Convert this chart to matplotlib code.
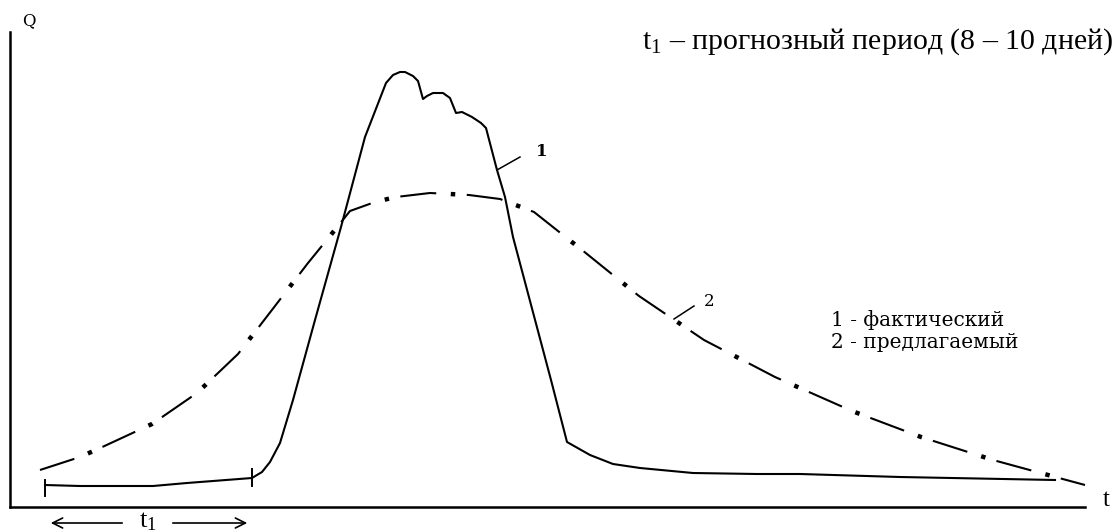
import matplotlib
matplotlib.use("Agg")
from matplotlib import pyplot as plt

plt.rcParams['font.family'] = ['Liberation Serif', 'DejaVu Serif']
plt.rcParams['mathtext.fontset'] = 'custom'
plt.rcParams['mathtext.rm'] = 'Liberation Serif'
plt.rcParams['mathtext.it'] = 'Liberation Serif'
plt.rcParams['lines.scale_dashes'] = False

# curve 1 - actual hydrograph
t_fact = [35, 70, 143, 177, 242, 252, 260, 270, 283, 305, 331, 355, 376, 383,
          390, 395, 403, 408, 413, 417, 423, 433, 440, 446, 452, 462, 471, 476,
          487, 495, 503, 541, 557, 580, 603, 630, 683, 747, 790, 890, 1045]
q_fact = [22, 21, 21, 24, 29, 35, 45, 64, 107, 187, 280, 370, 424, 432,
          435, 435, 431, 426, 408, 411, 414, 414, 409, 394, 395, 390, 384, 379,
          337, 310, 270, 127, 65, 52, 43, 39, 34, 33, 33, 30, 27]

# curve 2 - proposed hydrograph
t_pred = [30, 70, 88, 142, 187, 228, 265, 298, 320, 340, 365, 386, 420, 459,
          490, 524, 577, 629, 694, 765, 842, 911, 983, 1049, 1075]
q_pred = [37, 50, 58, 83, 114, 153, 201, 244, 271, 296, 305, 310, 314, 312,
          308, 295, 253, 211, 167, 130, 96, 70, 47, 29, 22]

# forecast period t1 marked on curve 1
t1_start, t1_end = 35, 242

wide = ['DejaVu Serif']

fig = plt.figure(figsize=(11.18, 5.32), dpi=100)
ax = fig.add_axes([10 / 1118, 25 / 532, 1075 / 1118, 475 / 532])
ax.set_xlim(0, 1075)
ax.set_ylim(0, 475)
for s in ['top', 'right']:
    ax.spines[s].set_visible(False)
for s in ['left', 'bottom']:
    ax.spines[s].set_linewidth(1.8)
ax.set_xticks([])
ax.set_yticks([])

ax.plot(t_fact, q_fact, color='black', lw=1.5, solid_joinstyle='round', clip_on=False)

# dash-dot curve: long dashes and heavier square dots on the same path
ax.plot(t_pred, q_pred, color='black', lw=1.5, linestyle=(0, (26, 22)), clip_on=False)
ax.plot(t_pred, q_pred, color='black', lw=3.2, linestyle=(11.5, (3.2, 44.8)), clip_on=False)

# t1 end ticks
ax.plot([t1_start, t1_start], [11, 27], color='black', lw=1.4, clip_on=False)
ax.plot([t1_end, t1_end], [21, 38], color='black', lw=1.4, clip_on=False)

# leaders for curve numbers
ax.plot([487, 510], [337, 350], color='black', lw=1.1)
ax.text(532, 355, "1", fontsize=12, family=wide, fontweight='semibold',
        ha='center', va='center')
ax.plot([664, 684], [188, 201], color='black', lw=1.1)
ax.text(699, 205, "2", fontsize=12, family=wide, ha='center', va='center')

ax.text(821, 187, "1 - фактический", fontsize=14.5, family=wide, ha='left', va='center')
ax.text(821, 165, "2 - предлагаемый", fontsize=14.5, family=wide, ha='left', va='center')

ax.text(1103, 465, r"t$_1$ – прогнозный период (8 – 10 дней)", fontsize=21.5,
        ha='right', va='center', clip_on=False)

ax.text(19, 486, "Q", fontsize=12, family=wide, ha='center', va='center', clip_on=False)
ax.text(1096, 7, "t", fontsize=18, ha='center', va='center', clip_on=False)

# t1 arrows below the axis
ax.annotate("", xy=(t1_start + 3, -16), xytext=(115, -16), annotation_clip=False,
            arrowprops=dict(arrowstyle='->', lw=1.2, color='black', mutation_scale=18))
ax.annotate("", xy=(t1_end - 2, -16), xytext=(160, -16), annotation_clip=False,
            arrowprops=dict(arrowstyle='->', lw=1.2, color='black', mutation_scale=18))
ax.text(138, -15, r"t$_1$", fontsize=19, ha='center', va='center', clip_on=False)

fig.savefig("out.png", dpi=100)
